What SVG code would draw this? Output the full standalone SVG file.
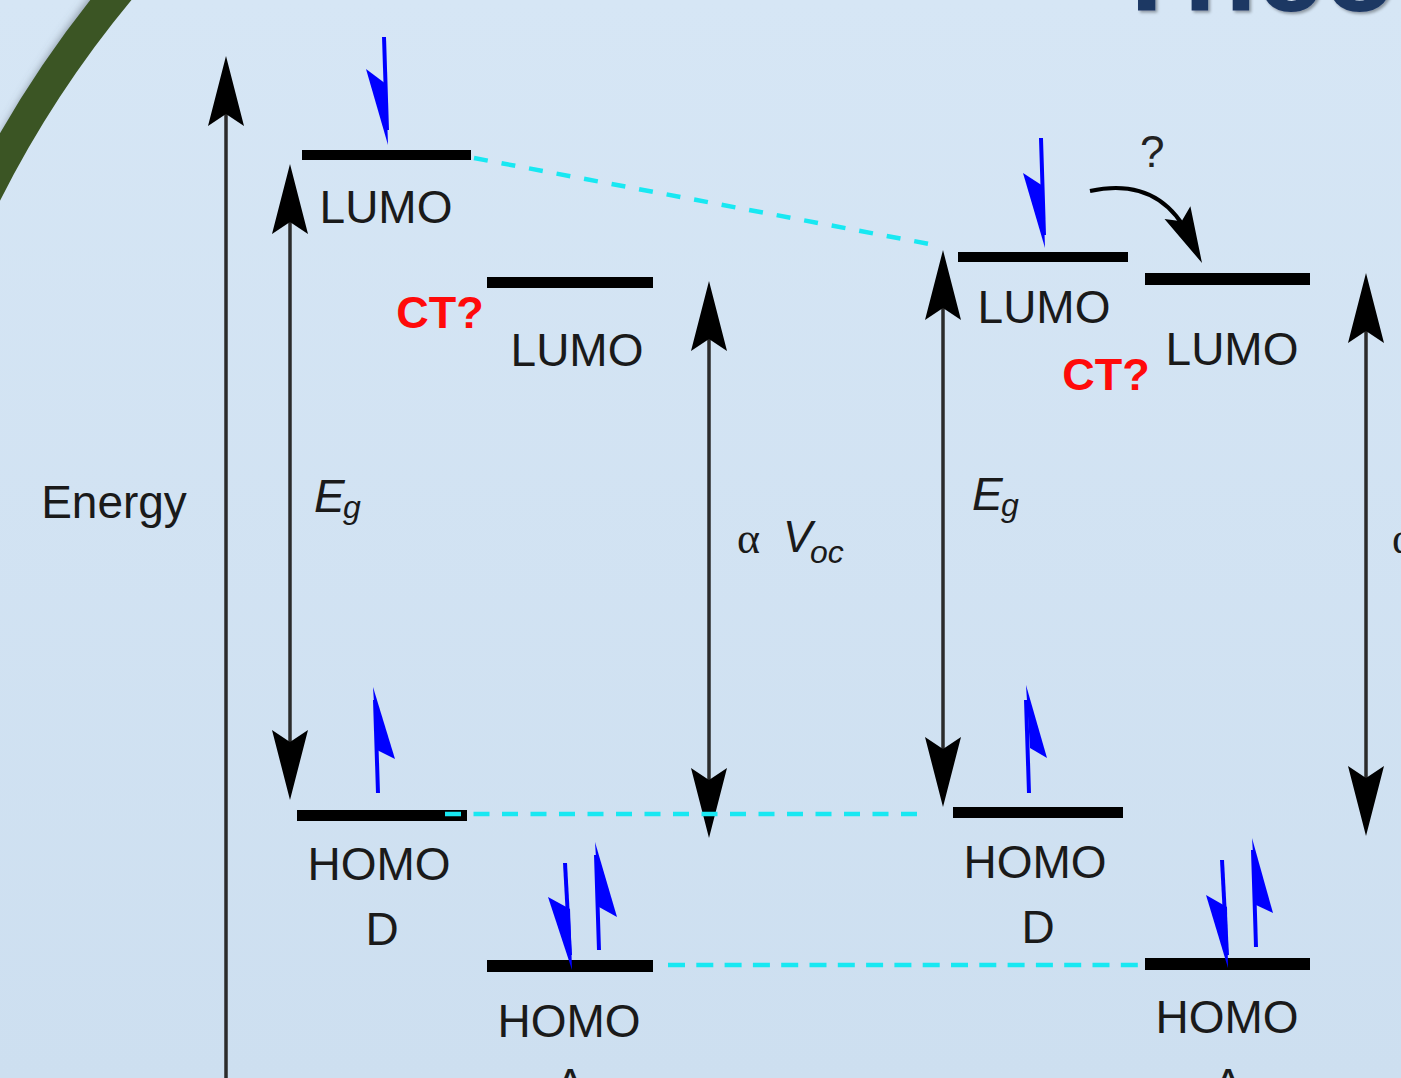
<svg xmlns="http://www.w3.org/2000/svg" xmlns:xlink="http://www.w3.org/1999/xlink" width="1401" height="1078" viewBox="0 0 1401 1078">
<defs>
<linearGradient id="bg" x1="0" y1="0" x2="0" y2="1">
<stop offset="0" stop-color="#d6e6f5"/>
<stop offset="1" stop-color="#cddff0"/>
</linearGradient>
<filter id="blur" x="-10%" y="-10%" width="120%" height="120%"><feGaussianBlur stdDeviation="4"/></filter>
<filter id="tshadow" x="-10%" y="-50%" width="120%" height="200%"><feDropShadow dx="2" dy="2" stdDeviation="1.5" flood-color="#000" flood-opacity="0.35"/></filter>
<path id="ah" d="M0,0 L18,70 L0,58 L-18,70 Z"/>
<style>
.lbl{font-family:"Liberation Sans",Arial,sans-serif;font-size:46px;fill:#1a1a1a;text-anchor:middle}
.ct{font-family:"Liberation Sans",Arial,sans-serif;font-size:45px;font-weight:bold;fill:#ff0a0a;text-anchor:middle}
.it{font-family:"Liberation Sans",Arial,sans-serif;font-style:italic;fill:#1a1a1a}
.bar{fill:#000}
.ax{stroke:#2b2b2b;stroke-width:3.5;fill:none}
.head{fill:#000}
.spin{stroke:#0000ff;stroke-width:4;fill:none}
.spinh{fill:#0000ff}
.dash{stroke:#18e8f2;stroke-width:4.5;fill:none}
</style>
</defs>
<rect width="1401" height="1078" fill="url(#bg)"/>
<!-- decorative green arc (circle centre 950,680) -->
<path d="M-30,207 A1100,1100 0 0 1 118,-30" fill="none" stroke="#5f6a78" stroke-opacity="0.65" stroke-width="10" filter="url(#blur)"/>
<path d="M-30,226 A1080,1080 0 0 1 136,-30" fill="none" stroke="#3b5524" stroke-width="32"/>
<text x="1110" y="11" font-family="'Liberation Sans',Arial,sans-serif" font-size="120" font-weight="bold" fill="#1f3864" filter="url(#tshadow)">Theo</text>

<g id="axis-energy">
<line class="ax" x1="226" y1="110" x2="226" y2="1078"/>
<use href="#ah" class="head" transform="translate(226,56)"/>
<text class="lbl" x="114" y="518">Energy</text>
</g>

<g id="lumo-d-left">
<rect class="bar" x="302" y="150" width="169" height="10"/>
<text class="lbl" x="386" y="223">LUMO</text>
<path class="spin" d="M384,37 L387,130"/>
<polygon class="spinh" points="366,69 388,145 386,84"/>
</g>

<g id="lumo-a-left">
<rect class="bar" x="487" y="277" width="166" height="11"/>
<text class="lbl" x="577" y="366">LUMO</text>
<text class="ct" x="440" y="328">CT?</text>
</g>

<g id="homo-d-left">
<rect class="bar" x="297" y="810" width="170" height="11"/>
<text class="lbl" x="379" y="880">HOMO</text>
<text class="lbl" x="382" y="945">D</text>
<path class="spin" d="M378,793 L375,700"/>
<polygon class="spinh" points="373,687 395,759 377,750"/>
</g>

<g id="homo-a-left">
<rect class="bar" x="487" y="960" width="166" height="12"/>
<text class="lbl" x="569" y="1037">HOMO</text>
<text class="lbl" x="570" y="1101">A</text>
<path class="spin" d="M565,863 L570,955"/>
<polygon class="spinh" points="548,897 572,970 570,909"/>
<path class="spin" d="M599,950 L596,855"/>
<polygon class="spinh" points="595,842 617,917 599,907"/>
</g>

<g id="lumo-d-right">
<rect class="bar" x="958" y="252" width="170" height="10"/>
<text class="lbl" x="1044" y="323">LUMO</text>
<path class="spin" d="M1041,138 L1044,235"/>
<polygon class="spinh" points="1023,173 1045,248 1043,186"/>
</g>

<g id="lumo-a-right">
<rect class="bar" x="1145" y="273" width="165" height="12"/>
<text class="lbl" x="1232" y="365">LUMO</text>
<text class="ct" x="1106" y="390">CT?</text>
</g>

<g id="homo-d-right">
<rect class="bar" x="953" y="807" width="170" height="11"/>
<text class="lbl" x="1035" y="878">HOMO</text>
<text class="lbl" x="1038" y="943">D</text>
<path class="spin" d="M1029,793 L1026,700"/>
<polygon class="spinh" points="1026,685 1047,758 1030,748"/>
</g>

<g id="homo-a-right">
<rect class="bar" x="1145" y="958" width="165" height="12"/>
<text class="lbl" x="1227" y="1033">HOMO</text>
<text class="lbl" x="1228" y="1101">A</text>
<path class="spin" d="M1222,860 L1227,955"/>
<polygon class="spinh" points="1206,895 1228,968 1227,907"/>
<path class="spin" d="M1256,947 L1253,850"/>
<polygon class="spinh" points="1252,838 1273,913 1256,905"/>
</g>

<g id="connectors">
<!-- Eg left -->
<line class="ax" x1="290" y1="215" x2="290" y2="750"/>
<use href="#ah" class="head" transform="translate(290,164)"/>
<use href="#ah" class="head" transform="translate(290,800) rotate(180)"/>
<text class="it" x="314" y="512" font-size="46">E</text>
<text class="it" x="343" y="518" font-size="32">g</text>
<!-- alpha Voc -->
<line class="ax" x1="709" y1="330" x2="709" y2="790"/>
<use href="#ah" class="head" transform="translate(709,281)"/>
<use href="#ah" class="head" transform="translate(709,838) rotate(180)"/>
<text x="737" y="553" font-family="'Liberation Serif','Times New Roman',serif" font-size="44" fill="#1a1a1a">α</text>
<text class="it" x="783" y="552" font-size="44">V</text>
<text class="it" x="810" y="563" font-size="32">oc</text>
<!-- Eg right -->
<line class="ax" x1="943" y1="300" x2="943" y2="760"/>
<use href="#ah" class="head" transform="translate(943,250)"/>
<use href="#ah" class="head" transform="translate(943,807) rotate(180)"/>
<text class="it" x="972" y="510" font-size="46">E</text>
<text class="it" x="1001" y="516" font-size="32">g</text>
<!-- far right -->
<line class="ax" x1="1366" y1="320" x2="1366" y2="790"/>
<use href="#ah" class="head" transform="translate(1366,273)"/>
<use href="#ah" class="head" transform="translate(1366,836) rotate(180)"/>
<text x="1392" y="553" font-family="'Liberation Serif','Times New Roman',serif" font-size="44" fill="#1a1a1a">α</text>
<!-- transfer arrow -->
<path d="M1090,191 Q1160,176 1190,238" fill="none" stroke="#000" stroke-width="4"/>
<use href="#ah" class="head" transform="translate(1202,263) rotate(154) scale(0.8)"/>
<text x="1140" y="167" font-family="'Liberation Sans',Arial,sans-serif" font-size="44" fill="#222">?</text>
<!-- dashed level guides -->
<line class="dash" x1="474" y1="158" x2="940" y2="246" stroke-dasharray="14 14"/>
<line class="dash" x1="445" y1="814" x2="918" y2="814" stroke-dasharray="16 12.5"/>
<line class="dash" x1="668" y1="965" x2="1142" y2="965" stroke-dasharray="17 11.3"/>
</g>
</svg>
